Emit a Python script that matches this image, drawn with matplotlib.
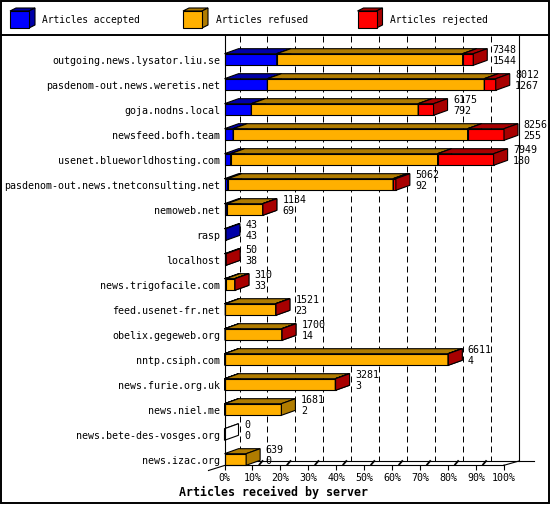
import matplotlib
matplotlib.use('Agg')
import matplotlib.pyplot as plt
from matplotlib.patches import Polygon, Rectangle

# ---------------- data ----------------
hosts = ['outgoing.news.lysator.liu.se', 'pasdenom-out.news.weretis.net',
         'goja.nodns.local', 'newsfeed.bofh.team', 'usenet.blueworldhosting.com',
         'pasdenom-out.news.tnetconsulting.net', 'nemoweb.net', 'rasp', 'localhost',
         'news.trigofacile.com', 'feed.usenet-fr.net', 'obelix.gegeweb.org',
         'nntp.csiph.com', 'news.furie.org.uk', 'news.niel.me',
         'news.bete-des-vosges.org', 'news.izac.org']
totals = [7348, 8012, 6175, 8256, 7949, 5062, 1134, 43, 50, 310, 1521, 1700,
          6611, 3281, 1681, 0, 639]
accepted = [1544, 1267, 792, 255, 180, 92, 69, 43, 38, 33, 23, 14, 4, 3, 2, 0, 0]
refused = [5490, 6406, 4928, 6926, 6114, 4888, 1060, 0, 0, 270, 1490, 1680,
           6600, 3270, 1679, 0, 639]
rejected = [314, 339, 455, 1075, 1655, 82, 5, 0, 12, 7, 8, 6, 7, 8, 0, 0, 0]
pct_ticks = [0, 10, 20, 30, 40, 50, 60, 70, 80, 90, 100]
pct_labels = ['%d%%' % p for p in pct_ticks]
series_names = ['Articles accepted', 'Articles refused', 'Articles rejected']
front_colors = ['#0000FF', '#FFB000', '#FF0000']
dark_colors = ['#0000A8', '#B07C00', '#A80000']
x_label = 'Articles received by server'

# ---------------- layout (pixels) ----------------
W, H = 550, 505
X0_PX, X100_PX = 224.5, 504.0
Y_TOP_PX, Y_BOT_PX = 36.0, 465.0
ROW0_PX, ROW_PX = 59.5, 25.0
BAR_HALF_PX = 5.8
BAR_DX, BAR_DY = 14, 5
AX_DX, AX_DY = 15, 4
PT = 0.72          # points per pixel
LW = 0.8
FONT = 'DejaVu Sans Mono'
FS = 7.2

fig = plt.figure(figsize=(W / 100, H / 100), dpi=100)
fig.patch.set_facecolor('white')

# overlay in pixel coordinates for frame / legend / floor decorations
bg = fig.add_axes([0, 0, 1, 1], zorder=0)
bg.set_xlim(0, W)
bg.set_ylim(H, 0)
bg.axis('off')

ax = fig.add_axes([X0_PX / W, 1 - Y_BOT_PX / H, (X100_PX - X0_PX) / W,
                   (Y_BOT_PX - Y_TOP_PX) / H], zorder=1)
ax.patch.set_visible(False)
xmax = max(totals)
ax.set_xlim(0, xmax)
ax.set_ylim((Y_BOT_PX - ROW0_PX) / ROW_PX, (Y_TOP_PX - ROW0_PX) / ROW_PX)
sx = xmax / (X100_PX - X0_PX)   # data units per pixel (x)
sy = 1.0 / ROW_PX               # data units per pixel (y)

# frame and legend separator
bg.add_patch(Rectangle((1, 1), W - 2.5, H - 3, fill=False, ec='black', lw=1.4))
bg.plot([1, W - 1.5], [35, 35], color='black', lw=1.4)

# legend
leg_x = [10, 183, 357.5]
leg_text_x = [42, 216, 390]
for lx, tx, name, fc, dc in zip(leg_x, leg_text_x, series_names, front_colors, dark_colors):
    t, b, r = 11, 28, lx + 19
    bg.add_patch(Polygon([(lx, t), (r, t), (r + 6, t - 3), (lx + 6, t - 3)], fc=dc, ec='k', lw=LW))
    bg.add_patch(Polygon([(r, t), (r, b), (r + 6, b - 3), (r + 6, t - 3)], fc=dc, ec='k', lw=LW))
    bg.add_patch(Polygon([(lx, t), (r, t), (r, b), (lx, b)], fc=fc, ec='k', lw=LW))
    bg.text(tx, 20.3, name, family=FONT, fontsize=6.9, ha='left', va='center')

# floor decorations
fb = Y_BOT_PX
bb = Y_BOT_PX - AX_DY
bg.plot([X0_PX - 16, X0_PX], [fb + 5.5, fb + 0.5], color='k', lw=LW)
bg.plot([X100_PX, X100_PX + 1, X100_PX + AX_DX], [fb, fb, bb], color='k', lw=LW)
bg.plot([X0_PX + AX_DX, 534], [bb, bb], color='k', lw=LW)
bg.plot([X100_PX + AX_DX, X100_PX + AX_DX], [Y_TOP_PX, bb], color='k', lw=LW)
for p in pct_ticks[1:-1]:
    fx = X0_PX + p / 100 * (X100_PX - X0_PX)
    bg.plot([fx + 7, fx + 10], [fb - 0.5, bb], color='k', lw=1.3)

# back dashed grid lines
for p in pct_ticks[:-1]:
    xb = p / 100 * xmax + AX_DX * sx
    ax.plot([xb, xb], [(Y_TOP_PX - ROW0_PX) * sy, (bb - ROW0_PX) * sy], color='k',
            lw=PT, linestyle=(0, (6, 4)), zorder=0.5, clip_on=False)

# bars
def box(x0, x1, yc, fc, dc):
    h = BAR_HALF_PX * sy
    ddx, ddy = BAR_DX * sx, BAR_DY * sy
    top, bot = yc - h, yc + h
    kw = dict(ec='black', lw=LW, joinstyle='miter', clip_on=False, zorder=2)
    ax.add_patch(Polygon([(x0, bot), (x1, bot), (x1, top), (x0, top)], fc=fc, **kw))
    ax.add_patch(Polygon([(x0, top), (x1, top), (x1 + ddx, top - ddy), (x0 + ddx, top - ddy)], fc=dc, **kw))
    ax.add_patch(Polygon([(x1, top), (x1, bot), (x1 + ddx, bot - ddy), (x1 + ddx, top - ddy)], fc=dc, **kw))

for i in range(len(hosts)):
    segs = [accepted[i], refused[i], rejected[i]]
    if sum(segs) == 0:
        box(0, 0, i, 'white', 'white')
    left = 0
    for v, fc, dc in zip(segs, front_colors, dark_colors):
        if v > 0:
            box(left, left + v, i, fc, dc)
            left += v
    ax.annotate(str(totals[i]), xy=(totals[i], i), xytext=((BAR_DX + 5.5) * PT, 9.5 * PT),
                textcoords='offset points', family=FONT, fontsize=FS, ha='left', va='center',
                zorder=3, annotation_clip=False)
    ax.annotate(str(accepted[i]), xy=(totals[i], i), xytext=((BAR_DX + 5.5) * PT, -1.5 * PT),
                textcoords='offset points', family=FONT, fontsize=FS, ha='left', va='center',
                zorder=3, annotation_clip=False)

# axes, ticks, labels
for s in ['top', 'right']:
    ax.spines[s].set_visible(False)
ax.spines['left'].set_linewidth(LW)
ax.spines['bottom'].set_linewidth(LW)
ax.set_yticks(range(len(hosts)))
ax.set_yticklabels(hosts, family=FONT, fontsize=FS)
ax.tick_params(axis='y', length=0, pad=3.2)
ax.set_xticks([p / 100 * xmax for p in pct_ticks])
ax.set_xticklabels(pct_labels, family=FONT, fontsize=FS)
ax.tick_params(axis='x', length=5 * PT, width=LW, pad=2.5, direction='out')
ax.set_xlabel(x_label, family=FONT, fontsize=8.4, fontweight='bold')
ax.xaxis.set_label_coords((179 - X0_PX) / (X100_PX - X0_PX), -(492 - Y_BOT_PX) / (Y_BOT_PX - Y_TOP_PX))
ax.xaxis.label.set_horizontalalignment('left')
ax.xaxis.label.set_verticalalignment('center')

fig.savefig('out.png', dpi=100)
